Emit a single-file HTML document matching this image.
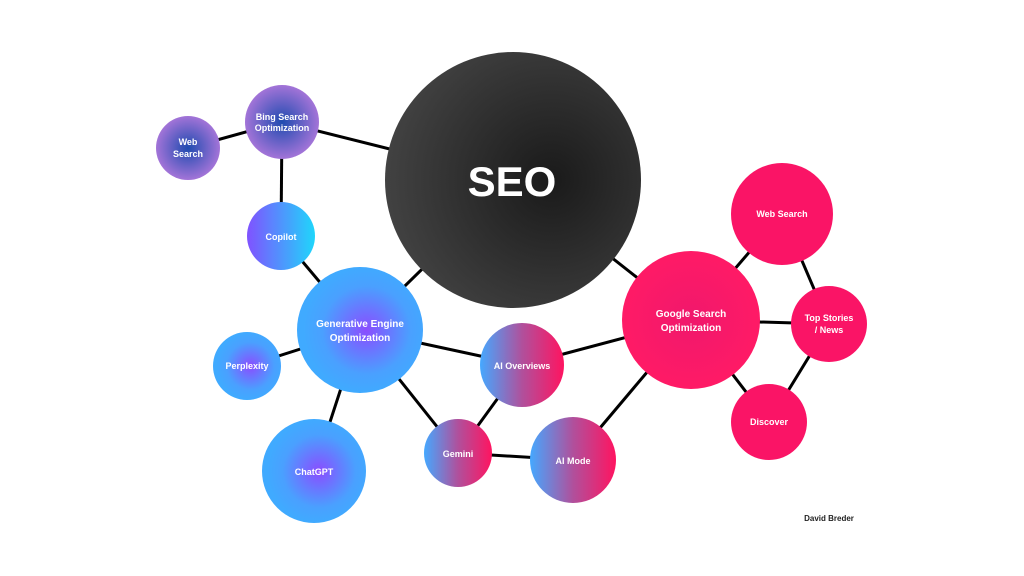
<!DOCTYPE html>
<html><head><style>html,body{margin:0;padding:0;background:#fff}svg{display:block}text{font-family:"Liberation Sans",sans-serif;font-weight:bold;fill:#fff;text-anchor:middle}</style></head>
<body>
<svg width="1024" height="576" viewBox="0 0 1024 576">
<defs>
<radialGradient id="bing"><stop offset="0" stop-color="#1f4bb0"/><stop offset="1" stop-color="#a374d8"/></radialGradient>
<linearGradient id="cop" x1="0" x2="1"><stop offset="0" stop-color="#8052ff"/><stop offset="1" stop-color="#1fd6fb"/></linearGradient>
<radialGradient id="geo" cx="0.55" cy="0.5"><stop offset="0" stop-color="#8a4dff"/><stop offset="0.7" stop-color="#4aa0ff"/><stop offset="1" stop-color="#40aaff"/></radialGradient>
<linearGradient id="ai" x1="0" x2="1"><stop offset="0" stop-color="#45a8ff"/><stop offset="0.5" stop-color="#b0509c"/><stop offset="1" stop-color="#ff1460"/></linearGradient>
<radialGradient id="goo"><stop offset="0" stop-color="#f0186c"/><stop offset="1" stop-color="#ff1a66"/></radialGradient>
<radialGradient id="seo" cx="0.65" cy="0.5" r="0.7"><stop offset="0" stop-color="#1a1a1a"/><stop offset="1" stop-color="#454545"/></radialGradient>
</defs>
<g stroke="#000" stroke-width="3">
<line x1="188" y1="148" x2="282" y2="122"/>
<line x1="282" y1="122" x2="513" y2="180"/>
<line x1="282" y1="122" x2="281" y2="236"/>
<line x1="281" y1="236" x2="360" y2="330"/>
<line x1="360" y1="330" x2="513" y2="180"/>
<line x1="247" y1="366" x2="360" y2="330"/>
<line x1="314" y1="471" x2="360" y2="330"/>
<line x1="360" y1="330" x2="522" y2="365"/>
<line x1="360" y1="330" x2="458" y2="453"/>
<line x1="522" y1="365" x2="458" y2="453"/>
<line x1="458" y1="453" x2="573" y2="460"/>
<line x1="522" y1="365" x2="691" y2="320"/>
<line x1="573" y1="460" x2="691" y2="320"/>
<line x1="513" y1="180" x2="691" y2="320"/>
<line x1="691" y1="320" x2="782" y2="214"/>
<line x1="691" y1="320" x2="829" y2="324"/>
<line x1="691" y1="320" x2="769" y2="422"/>
<line x1="782" y1="214" x2="829" y2="324"/>
<line x1="829" y1="324" x2="769" y2="422"/>
</g>
<circle cx="513" cy="180" r="128" fill="url(#seo)"/>
<circle cx="282" cy="122" r="37" fill="url(#bing)"/>
<circle cx="188" cy="148" r="32" fill="url(#bing)"/>
<circle cx="281" cy="236" r="34" fill="url(#cop)"/>
<circle cx="360" cy="330" r="63" fill="url(#geo)"/>
<circle cx="247" cy="366" r="34" fill="url(#geo)"/>
<circle cx="314" cy="471" r="52" fill="url(#geo)"/>
<circle cx="522" cy="365" r="42" fill="url(#ai)"/>
<circle cx="458" cy="453" r="34" fill="url(#ai)"/>
<circle cx="573" cy="460" r="43" fill="url(#ai)"/>
<circle cx="691" cy="320" r="69" fill="url(#goo)"/>
<circle cx="782" cy="214" r="51" fill="#fa1466"/>
<circle cx="829" cy="324" r="38" fill="#fa1466"/>
<circle cx="769" cy="422" r="38" fill="#fa1466"/>
<text x="512" y="196" font-size="42">SEO</text>
<text x="282" y="120" font-size="9">Bing Search</text>
<text x="282" y="131" font-size="9">Optimization</text>
<text x="188" y="145" font-size="9">Web</text>
<text x="188" y="157" font-size="9">Search</text>
<text x="281" y="240" font-size="9">Copilot</text>
<text x="360" y="327" font-size="10">Generative Engine</text>
<text x="360" y="341" font-size="10">Optimization</text>
<text x="247" y="369" font-size="9">Perplexity</text>
<text x="314" y="475" font-size="9">ChatGPT</text>
<text x="522" y="369" font-size="9">AI Overviews</text>
<text x="458" y="457" font-size="9">Gemini</text>
<text x="573" y="464" font-size="9">AI Mode</text>
<text x="691" y="317" font-size="10">Google Search</text>
<text x="691" y="331" font-size="10">Optimization</text>
<text x="782" y="217" font-size="9">Web Search</text>
<text x="829" y="321" font-size="9">Top Stories</text>
<text x="829" y="333" font-size="9">/ News</text>
<text x="769" y="425" font-size="9">Discover</text>
<text x="829" y="521" font-size="8" style="fill:#222">David Breder</text>
</svg>
</body></html>
